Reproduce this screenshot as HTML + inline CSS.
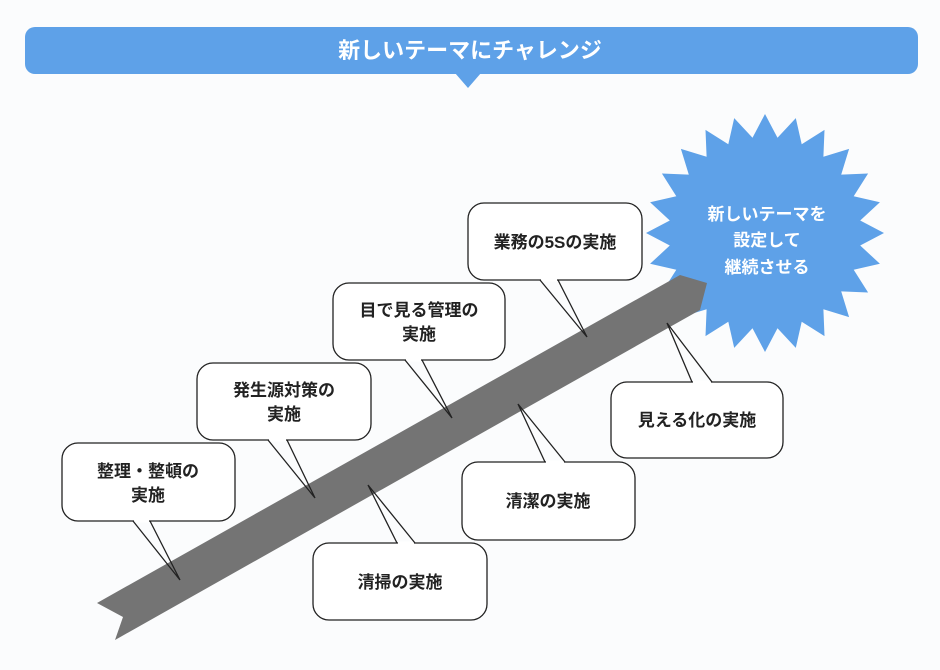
<!DOCTYPE html>
<html><head><meta charset="utf-8"><style>
html,body{margin:0;padding:0;background:#fbfcfd;}
svg{display:block}
text{font-family:"Liberation Sans","Noto Sans CJK JP",sans-serif;}
</style></head><body>
<svg width="940" height="670" viewBox="0 0 940 670" xmlns="http://www.w3.org/2000/svg">
<rect width="940" height="670" fill="#fbfcfd"/>
<rect x="25" y="27" width="893" height="47" rx="10" fill="#5ea1e8"/>
<polygon points="455,73 481,73 468,88" fill="#5ea1e8"/>
<text x="470" y="58" font-size="22" fill="#fff" text-anchor="middle" font-weight="bold">新しいテーマにチャレンジ</text>
<polygon fill="#5ea1e8" points="765,114 777.5,137.8 795.8,118.1 801.7,144.3 824.5,129.9 823.4,156.8 849.1,148.9 841.2,174.6 868.1,173.5 853.7,196.3 879.9,202.2 860.2,220.5 884,233 860.2,245.5 879.9,263.8 853.7,269.7 868.1,292.5 841.2,291.4 849.1,317.1 823.4,309.2 824.5,336.1 801.7,321.7 795.8,347.9 777.5,328.2 765,352 752.5,328.2 734.2,347.9 728.3,321.7 705.5,336.1 706.6,309.2 680.9,317.1 688.8,291.4 661.9,292.5 676.3,269.7 650.1,263.8 669.8,245.5 646,233 669.8,220.5 650.1,202.2 676.3,196.3 661.9,173.5 688.8,174.6 680.9,148.9 706.6,156.8 705.5,129.9 728.3,144.3 734.2,118.1 752.5,137.8"/>
<polygon points="97,603 680,275 707,283 700,310 115,640 123,617" fill="#747474"/>
<g fill="#fff" stroke="#222" stroke-width="1.3">
<rect x="62" y="443" width="173" height="78" rx="16"/>
<rect x="197" y="363" width="174" height="77" rx="16"/>
<rect x="333" y="283" width="172" height="77" rx="16"/>
<rect x="468" y="203" width="174" height="77" rx="16"/>
<rect x="611" y="382" width="172" height="76" rx="16"/>
<rect x="462" y="462" width="173" height="78" rx="16"/>
<rect x="313" y="543" width="174" height="77" rx="16"/>
</g>
<g stroke="#fff" stroke-width="3">
<line x1="134" y1="521" x2="149" y2="521"/>
<line x1="269" y1="440" x2="286" y2="440"/>
<line x1="406" y1="360" x2="421" y2="360"/>
<line x1="541" y1="280" x2="557" y2="280"/>
<line x1="693" y1="382" x2="711" y2="382"/>
<line x1="546" y1="462" x2="564" y2="462"/>
<line x1="398" y1="543" x2="414" y2="543"/>
</g>
<g fill="none" stroke="#222" stroke-width="1.3">
<polyline points="133,521 180,580 150,521"/>
<polyline points="268,440 315,498 287,440"/>
<polyline points="405,360 452,418 422,360"/>
<polyline points="540,280 587,337 558,280"/>
<polyline points="692,382 667,323 712,382"/>
<polyline points="545,462 518,404 565,462"/>
<polyline points="397,543 368,485 415,543"/>
</g>
<g font-size="17" fill="#222" text-anchor="middle" font-weight="bold">
<text x="148" y="477">整理・整頓の</text><text x="148" y="501">実施</text>
<text x="284" y="396">発生源対策の</text><text x="284" y="420">実施</text>
<text x="419" y="316">目で見る管理の</text><text x="419" y="340">実施</text>
<text x="555" y="248">業務の5Sの実施</text>
<text x="697" y="426">見える化の実施</text>
<text x="548" y="507">清潔の実施</text>
<text x="400" y="588">清掃の実施</text>
</g>
<g font-size="17" fill="#fff" text-anchor="middle" font-weight="bold">
<text x="767" y="220">新しいテーマを</text>
<text x="767" y="246">設定して</text>
<text x="767" y="273">継続させる</text>
</g>
</svg>
</body></html>
